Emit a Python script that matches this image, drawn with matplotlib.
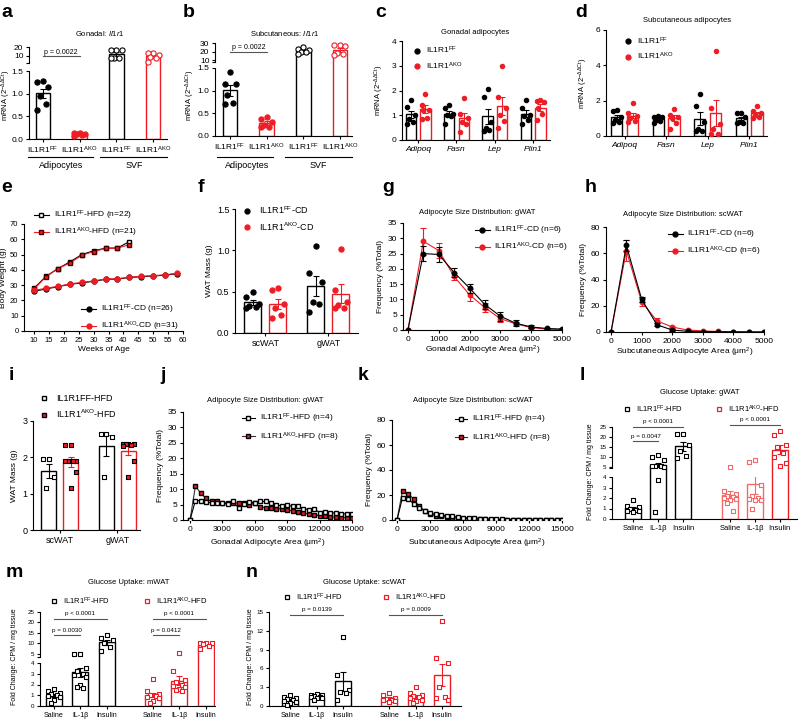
import numpy as np
import matplotlib.pyplot as plt
from matplotlib.lines import Line2D

W, H = 799, 720
RED = '#ee1c25'
PINK = '#f26a6a'

plt.rcParams.update({
    'font.family': ['Liberation Sans', 'DejaVu Sans'],
    'font.size': 5.5,
    'axes.linewidth': 0.8,
    'xtick.major.size': 2.5, 'ytick.major.size': 2.5,
    'xtick.major.width': 0.8, 'ytick.major.width': 0.8,
    'xtick.major.pad': 1.5, 'ytick.major.pad': 1.5,
    'mathtext.fontset': 'custom',
    'mathtext.rm': 'Liberation Sans',
    'mathtext.it': 'Liberation Sans:italic',
    'mathtext.bf': 'Liberation Sans:bold',
    'legend.frameon': False,
})

FF = 'IL1R1$^{\\mathrm{FF}}$'
AKO = 'IL1R1$^{\\mathrm{AKO}}$'
MRNA = 'mRNA (2$^{-\\Delta\\Delta \\mathrm{Ct}}$)'
FOLD = 'Fold Change: CPM / mg tissue'

# -------------------------------------------------------
# Data
# -------------------------------------------------------

# a: gonadal Il1r1
a_ff_adip = [1.27, 1.25, 1.15, 0.95, 0.78, 0.63]
a_ako_adip = [0.14, 0.13, 0.12, 0.10, 0.08, 0.07]
a_ff_svf = [17.0, 16.0, 16.5, 7.0, 7.0, 6.5]
a_ako_svf = [13.5, 13.0, 11.0, 8.0, 7.0, 2.5]

# b: subcutaneous Il1r1
b_ff_adip = [1.42, 1.15, 1.15, 0.90, 0.72, 0.70]
b_ako_adip = [0.42, 0.37, 0.30, 0.25, 0.20, 0.20]
b_ff_svf = [25.0, 23.0, 22.0, 20.0, 19.0, 17.0]
b_ako_svf = [28.0, 27.5, 27.0, 18.0, 17.0, 16.0]

# c, d: adipocyte genes
genes = ['Adipoq', 'Fasn', 'Lep', 'Plin1']
c_ff = [[1.62, 1.35, 1.00, 0.85, 0.72, 0.65],
        [1.42, 1.28, 1.05, 1.00, 0.95, 0.65],
        [2.08, 1.72, 0.72, 0.48, 0.35, 0.40],
        [1.62, 1.30, 1.00, 0.95, 0.80, 0.65]]
c_ako = [[1.87, 1.43, 1.22, 1.20, 0.90, 0.85],
         [1.68, 1.05, 0.90, 0.72, 0.65, 0.33],
         [3.00, 1.75, 1.30, 1.00, 0.75, 0.48],
         [1.58, 1.60, 1.52, 1.30, 1.05, 0.82]]
d_ff = [[1.50, 1.40, 1.10, 0.90, 0.80, 0.75],
        [1.15, 1.10, 1.05, 0.90, 0.85, 0.75],
        [2.40, 1.70, 0.80, 0.40, 0.30, 0.30],
        [1.30, 1.30, 1.05, 0.80, 0.75, 0.75]]
d_ako = [[1.85, 1.30, 1.15, 1.00, 0.85, 0.80],
         [1.55, 1.20, 1.10, 1.00, 0.75, 0.40],
         [4.80, 1.60, 0.70, 0.40, 0.10, 0.10],
         [1.70, 1.40, 1.30, 1.20, 1.10, 1.00]]

# e: body weight
weeks_hfd = [10, 14, 18, 22, 26, 30, 34, 38, 42]
ff_hfd_bw = [28.0, 35.8, 40.8, 45.2, 50.0, 52.5, 54.2, 54.3, 58.5]
ako_hfd_bw = [27.5, 35.5, 40.8, 44.5, 49.5, 52.0, 54.0, 54.2, 56.5]
weeks_cd = [10, 14, 18, 22, 26, 30, 34, 38, 42, 46, 50, 54, 58]
ff_cd_bw = [26.0, 27.5, 29.0, 30.5, 31.5, 32.5, 33.8, 34.0, 35.0, 35.5, 36.0, 36.5, 37.5]
ako_cd_bw = [26.5, 28.0, 29.2, 30.8, 31.8, 32.8, 34.0, 34.2, 35.2, 35.8, 36.2, 36.8, 37.8]

# f: WAT mass chow
depots = ['scWAT', 'gWAT']
f_ff = [[0.49, 0.43, 0.35, 0.33, 0.32, 0.30],
        [1.05, 0.72, 0.62, 0.38, 0.35, 0.26]]
f_ako = [[0.54, 0.52, 0.35, 0.30, 0.22, 0.18],
         [1.02, 0.52, 0.38, 0.34, 0.30, 0.30]]

# g, h: size distribution chow
area_cd = [0, 500, 1000, 1500, 2000, 2500, 3000, 3500, 4000, 4500, 5000]
g_ff = [0, 25.0, 24.7, 18.8, 13.7, 8.3, 4.5, 2.2, 1.0, 0.5, 0.3]
g_ff_err = [0, 2.5, 2.5, 1.5, 1.5, 1.5, 1.5, 1.0, 0.5, 0.3, 0.2]
g_ako = [0, 29.0, 26.0, 17.5, 11.5, 7.3, 3.7, 2.0, 0.8, 0.3, 0.1]
g_ako_err = [0, 4.5, 2.5, 1.2, 2.0, 1.5, 1.0, 0.5, 0.3, 0.2, 0.1]
h_ff = [0, 66.0, 25.0, 5.5, 1.5, 0.5, 0.3, 0.2, 0.1, 0.05, 0.0]
h_ff_err = [0, 4.0, 2.0, 1.0, 0.5, 0.3, 0.2, 0.1, 0.1, 0.0, 0.0]
h_ako = [0, 62.0, 23.0, 8.5, 3.8, 1.5, 0.8, 0.4, 0.2, 0.1, 0.05]
h_ako_err = [0, 8.0, 3.0, 2.0, 1.0, 0.5, 0.3, 0.2, 0.1, 0.05, 0.0]

# i: WAT mass HFD
i_ff = [[1.95, 1.95, 1.45, 1.15],
        [2.65, 2.65, 2.55, 1.45]]
i_ako = [[2.35, 2.35, 1.90, 1.90, 1.90, 1.90, 1.60, 1.15],
         [2.38, 2.38, 2.36, 2.36, 2.34, 2.30, 1.90, 1.45]]

# j, k: size distribution HFD
area_hfd = [0, 500, 1000, 1500, 2000, 2500, 3000, 3500, 4000, 4500, 5000,
            5500, 6000, 6500, 7000, 7500, 8000, 8500, 9000, 9500, 10000,
            10500, 11000, 11500, 12000, 12500, 13000, 13500, 14000, 14500, 15000]
j_ff = [0, 6.3, 6.3, 5.8, 5.6, 5.4, 5.5, 5.2, 6.0, 3.8, 5.2, 5.8, 5.6, 6.0, 6.0, 5.4,
        4.8, 4.6, 4.8, 4.4, 4.6, 3.6, 3.4, 3.6, 2.4, 2.6, 2.4, 2.2, 2.0, 2.0, 2.0]
j_ako = [0, 11.0, 8.6, 7.0, 6.0, 6.0, 5.6, 5.6, 5.6, 5.4, 5.4, 5.0, 5.4, 4.2, 4.0, 3.8,
         3.6, 3.6, 3.2, 3.0, 2.6, 2.2, 2.0, 1.6, 1.4, 1.2, 1.0, 0.9, 0.8, 0.7, 0.6]
k_ff = [0, 18.0, 17.0, 13.0, 10.0, 7.5, 5.5, 4.5, 4.0, 3.5, 3.0, 2.5, 2.0, 1.8, 1.5, 1.2,
        1.0, 0.8, 0.6, 0.5, 0.4, 0.3, 0.3, 0.2, 0.2, 0.1, 0.1, 0.1, 0.1, 0.1, 0.1]
k_ako = [0, 23.5, 21.0, 17.0, 11.0, 7.5, 5.0, 3.5, 3.0, 2.5, 2.0, 1.5, 1.2, 1.0, 0.8, 0.6,
         0.5, 0.4, 0.3, 0.2, 0.2, 0.1, 0.1, 0.1, 0.0, 0.0, 0.0, 0.0, 0.0, 0.0, 0.0]

# l, m, n: glucose uptake (Saline, IL-1b, Insulin) x (FF, AKO)
treat = ['Saline', 'IL-1β', 'Insulin']
l_ff = [[1.8, 1.2, 1.1, 1.0, 0.9, 0.8, 0.75, 0.7],
        [11.0, 10.0, 8.5, 5.5, 5.3, 5.5, 5.2, 3.75, 0.7],
        [21.5, 21.3, 16.0, 13.2, 10.5, 9.5]]
l_ako = [[5.2, 2.7, 2.4, 2.2, 2.1, 2.0, 1.9, 1.8, 1.5, 0.8],
         [8.5, 7.5, 3.2, 2.2, 2.0, 1.9, 1.8, 1.8, 0.95],
         [23.0, 21.0, 16.0, 15.0, 12.0, 10.0, 7.0, 5.5]]
m_ff = [[1.6, 1.4, 1.2, 1.1, 1.0, 0.9, 0.8, 0.6, 0.3],
        [5.2, 5.2, 3.5, 3.3, 3.0, 2.9, 2.7, 2.0, 1.8, 1.7],
        [14.0, 12.5, 11.5, 10.0, 8.5, 6.5]]
m_ako = [[2.5, 1.4, 1.1, 1.0, 0.9, 0.8, 0.7, 0.5, 0.3],
         [5.5, 3.3, 2.4, 2.2, 2.0, 1.9, 1.8, 1.6, 1.5, 1.4],
         [10.4, 10.2, 10.0, 9.8, 9.0, 7.6]]
n_ff = [[1.8, 1.5, 1.3, 1.1, 0.9, 0.8, 0.6, 0.4, 0.2],
        [1.9, 1.8, 1.7, 1.6, 1.5, 1.5, 1.3, 1.2, 1.0],
        [11.0, 5.0, 2.5, 2.2, 2.0, 0.9]]
n_ako = [[2.1, 1.8, 1.3, 1.1, 1.0, 0.9, 0.8, 0.7],
         [3.0, 2.0, 1.8, 1.6, 1.4, 1.2, 1.0, 0.8, 0.5],
         [13.6, 7.7, 6.9, 3.1, 1.5, 1.2, 1.0]]

fig = plt.figure(figsize=(W / 100, H / 100), dpi=100)


# -------------------------------------------------------
# Helpers
# -------------------------------------------------------

def px_axes(x0, y0, x1, y1):
    ax = fig.add_axes([x0 / W, 1 - y1 / H, (x1 - x0) / W, (y1 - y0) / H])
    ax.spines[['top', 'right']].set_visible(False)
    return ax


def ftext(x, y, s, **kw):
    kw.setdefault('ha', 'center')
    kw.setdefault('va', 'center')
    fig.text(x / W, 1 - y / H, s, **kw)


def fline(x0, x1, y, color='black'):
    fig.add_artist(Line2D([x0 / W, x1 / W], [1 - y / H, 1 - y / H], color=color, lw=0.8))


def panel_label(x, y, s):
    fig.text(x / W, 1 - y / H, s, fontsize=14, fontweight='bold', ha='left', va='baseline')


def spread(vals, width):
    vals = np.asarray(vals)
    order = np.argsort(-vals)
    pattern = [0, -1, 1, -0.5, 0.5, -1, 1, 0, -0.5, 0.5]
    offs = np.zeros(len(vals))
    for r, i in enumerate(order):
        offs[i] = pattern[r % len(pattern)] * width / 2
    return offs


def bar_points(ax, x, vals, color, width, marker='o', mface=None, medge=None,
               s=12, ax_up=None):
    vals = np.asarray(vals, float)
    m = vals.mean()
    se = vals.std(ddof=1) / np.sqrt(len(vals))
    mface = color if mface is None else mface
    medge = color if medge is None else medge
    offs = spread(vals, width * 0.75)
    ax.bar(x, m, width, facecolor='white', edgecolor=color, lw=1.0, zorder=1)
    ax.errorbar(x, m, yerr=se, fmt='none', ecolor=color, elinewidth=0.8,
                capsize=2, capthick=0.8, zorder=2)
    lo_top = ax.get_ylim()[1]
    low = vals <= lo_top
    ax.scatter(x + offs[low], vals[low], s=s, marker=marker, facecolor=mface,
               edgecolor=medge, linewidth=0.8, zorder=3, clip_on=False)
    if ax_up is not None:
        ub = ax_up.get_ylim()[0]
        if m > lo_top:
            ax_up.bar(x, m - ub + 5, width, bottom=ub - 5, facecolor='white',
                      edgecolor=color, lw=1.0, zorder=1)
            ax_up.errorbar(x, m, yerr=se, fmt='none', ecolor=color, elinewidth=0.8,
                           capsize=2, capthick=0.8, zorder=2)
        hi = ~low
        ax_up.scatter(x + offs[hi], vals[hi], s=s, marker=marker, facecolor=mface,
                      edgecolor=medge, linewidth=0.8, zorder=3, clip_on=False)


def upper_axes(x0, y0, x1, y1, ylim, ticks, spine_lo):
    ax = px_axes(x0, y0, x1, y1)
    ax.spines['bottom'].set_visible(False)
    ax.set_ylim(*ylim)
    ax.spines['left'].set_bounds(spine_lo, ylim[1])
    ax.set_yticks([spine_lo] + list(ticks))
    ax.set_yticklabels([''] + [str(t) for t in ticks])
    ax.set_xticks([])
    return ax


def pbar(ax, x0, x1, y, ty, text, fs=4.5):
    ax.plot([x0, x1], [y, y], color='#555555', lw=0.8, clip_on=False)
    ax.text((x0 + x1) / 2, ty, text, ha='center', va='center', fontsize=fs, clip_on=False)


def dot(color, marker='o', face=None, edge=None, ms=3.5, ls='none', lcolor=None):
    return Line2D([], [], ls=ls, color=lcolor or color, marker=marker,
                  mfc=face or color, mec=edge or color, ms=ms, lw=0.8)


# -------------------------------------------------------
# a / b  broken-axis Il1r1 panels
# -------------------------------------------------------

def il1r1_panel(rect_lo, rect_up, ylim_up, ticks_up, spine_lo, ff_adip, ako_adip,
                ff_svf, ako_svf, xlim, title, title_xy, p_y, p_ty):
    lo = px_axes(*rect_lo)
    lo.set_ylim(0, 1.5)
    lo.set_yticks([0, 0.5, 1.0, 1.5])
    lo.set_yticklabels(['0.0', '0.5', '1.0', '1.5'])
    up = upper_axes(*rect_up, ylim_up, ticks_up, spine_lo)
    for ax in (lo, up):
        ax.tick_params(axis='y', labelsize=6)
    w = 0.4
    bar_points(lo, 0, ff_adip, 'black', w, s=14, ax_up=up)
    bar_points(lo, 1, ako_adip, RED, w, s=14, ax_up=up)
    bar_points(lo, 2, ff_svf, 'black', w, mface='white', s=14, ax_up=up)
    bar_points(lo, 3, ako_svf, RED, w, mface='white', s=14, ax_up=up)
    for ax in (lo, up):
        ax.set_xlim(*xlim)
    lo.set_xticks([0, 1, 2, 3])
    lo.set_xticklabels([FF, AKO, FF, AKO], fontsize=6)
    pbar(up, 0, 1, p_y, p_ty, 'p = 0.0022', fs=5)
    ftext(*title_xy, title, fontsize=5.5)
    return lo


lo_a = il1r1_panel((29, 71, 167, 139), (29, 47, 167, 71), (-8.2, 20), [10, 20], 1.2,
                   a_ff_adip, a_ako_adip, a_ff_svf, a_ako_svf, (-0.38, 3.38),
                   'Gonadal: $\\mathit{Il1r1}$', (100, 33), 9.4, 14.0)
ftext(6, 95, MRNA, rotation=90, fontsize=5.5)
fline(28, 93, 157)
fline(100, 167, 157)
ftext(61, 165, 'Adipocytes', fontsize=6.5)
ftext(134, 165, 'SVF', fontsize=6.5)

lo_b = il1r1_panel((215, 68, 352, 136), (215, 43, 352, 68), (0.6, 30), [10, 20, 30], 7.6,
                   b_ff_adip, b_ako_adip, b_ff_svf, b_ako_svf, (-0.41, 3.33),
                   'Subcutaneous: $\\mathit{Il1r1}$', (285, 34), 19.6, 24.5)
ftext(190, 95, MRNA, rotation=90, fontsize=5.5)
fline(217, 273, 157)
fline(285, 352, 157)
ftext(247, 165, 'Adipocytes', fontsize=6.5)
ftext(318, 165, 'SVF', fontsize=6.5)


# -------------------------------------------------------
# c / d  adipocyte genes
# -------------------------------------------------------

def gene_panel(rect, ff, ako, ylim, yticks, xlim, title, title_xy, leg_anchor):
    ax = px_axes(*rect)
    ax.set_ylim(*ylim)
    ax.set_yticks(yticks)
    for g in range(len(genes)):
        bar_points(ax, g - 0.19, ff[g], 'black', 0.27, s=10)
        bar_points(ax, g + 0.19, ako[g], RED, 0.27, s=10)
    ax.set_xlim(*xlim)
    ax.set_xticks(range(len(genes)))
    ax.set_xticklabels(genes, fontstyle='italic', fontsize=6)
    ax.tick_params(axis='y', labelsize=6)
    ax.set_ylabel(MRNA, fontsize=5.5, labelpad=4)
    ax.legend([dot('black'), dot(RED)], [FF, AKO], loc='upper left',
              bbox_to_anchor=leg_anchor, fontsize=6, handlelength=1.0,
              handletextpad=0.6, labelspacing=0.5, borderpad=0, borderaxespad=0)
    ftext(*title_xy, title, fontsize=5.5)


gene_panel((402, 41, 550, 140), c_ff, c_ako, (0, 4), [0, 1, 2, 3, 4], (-0.42, 3.44),
           'Gonadal adipocytes', (475, 32), (0.07, 0.96))
gene_panel((606, 30, 767, 136), d_ff, d_ako, (0, 6), [0, 2, 4, 6], (-0.45, 3.43),
           'Subcutaneous adipocytes', (687, 20), (0.11, 0.95))


# -------------------------------------------------------
# e  body weight
# -------------------------------------------------------

ax = px_axes(24, 224, 183, 331)
ax.plot(weeks_hfd, ff_hfd_bw, color='black', lw=0.8, marker='s', mfc='white', mec='black', ms=3.5)
ax.plot(weeks_hfd, ako_hfd_bw, color=RED, lw=0.8, marker='s', mfc=RED, mec='#4a0000', ms=3.2)
ax.plot(weeks_cd, ff_cd_bw, color='black', lw=0.8, marker='o', mfc='black', mec='black', ms=3.5)
ax.plot(weeks_cd, ako_cd_bw, color=RED, lw=0.8, marker='o', mfc=RED, mec=RED, ms=3.5)
ax.set_xlim(6.6, 60)
ax.set_ylim(0, 70)
ax.set_xticks(range(10, 61, 5))
ax.set_yticks(range(0, 71, 10))
ax.set_xlabel('Weeks of Age', fontsize=6, labelpad=2)
ax.set_ylabel('Body Weight (g)', fontsize=6, labelpad=2)
leg1 = ax.legend([dot('black', 's', 'white', 'black', ls='-'), dot(RED, 's', RED, '#4a0000', ls='-')],
                 [FF + '-HFD (n=22)', AKO + '-HFD (n=21)'], loc='upper left',
                 bbox_to_anchor=(0.06, 1.14), fontsize=6, handlelength=1.8,
                 handletextpad=0.6, labelspacing=0.4, borderpad=0, borderaxespad=0)
ax.add_artist(leg1)
ax.legend([dot('black', 'o', ls='-'), dot(RED, 'o', ls='-')],
          [FF + '-CD (n=26)', AKO + '-CD (n=31)'], loc='upper left',
          bbox_to_anchor=(0.36, 0.26), fontsize=6, handlelength=1.8,
          handletextpad=0.6, labelspacing=0.4, borderpad=0, borderaxespad=0)


# -------------------------------------------------------
# f / i  WAT mass
# -------------------------------------------------------

def mass_panel(rect, ff, ako, ylim, yticks, yfmt, xlim, off, width, ff_kw, ako_kw,
               labels, handles, leg_anchor):
    ax = px_axes(*rect)
    ax.set_ylim(*ylim)
    ax.set_yticks(yticks)
    if yfmt:
        ax.set_yticklabels([yfmt % t for t in yticks])
    for g in range(len(depots)):
        bar_points(ax, g - off, ff[g], 'black', width, **ff_kw)
        bar_points(ax, g + off, ako[g], RED, width, **ako_kw)
    ax.set_xlim(*xlim)
    ax.set_xticks(range(len(depots)))
    ax.set_xticklabels(depots, fontsize=6.5)
    ax.tick_params(axis='y', labelsize=6.5)
    ax.set_ylabel('WAT Mass (g)', fontsize=6, labelpad=3)
    ax.legend(handles, labels, loc='upper left', bbox_to_anchor=leg_anchor,
              fontsize=6.5, handlelength=1.0, handletextpad=0.8, labelspacing=0.5,
              borderpad=0, borderaxespad=0)


mass_panel((235, 209, 358, 333), f_ff, f_ako, (0, 1.5), [0, 0.5, 1.0, 1.5], '%.1f',
           (-0.48, 1.47), 0.2, 0.27, dict(s=14), dict(s=14),
           [FF + '-CD', AKO + '-CD'], [dot('black'), dot(RED)], (0.06, 1.04))
mass_panel((33, 421, 140, 530), i_ff, i_ako, (0, 3), [0, 1, 2, 3], None,
           (-0.46, 1.39), 0.19, 0.25,
           dict(marker='s', mface='white', s=10),
           dict(marker='s', mface=RED, medge='black', s=10),
           ['IL1R1FF-HFD', AKO + '-HFD'],
           [dot('black', 's', 'white', 'black', ms=3), dot(RED, 's', RED, 'black', ms=3)],
           (0.06, 1.25))


# -------------------------------------------------------
# g / h  size distribution (chow)
# -------------------------------------------------------

def dist_cd(rect, ff, ff_err, ako, ako_err, xlim, ylim, yticks, title, title_xy, xlabel,
            leg_anchor):
    ax = px_axes(*rect)
    ax.errorbar(area_cd, ff, yerr=ff_err, color='black', lw=0.8, marker='o', ms=3.2,
                capsize=2, capthick=0.8, elinewidth=0.8, zorder=3)
    ax.errorbar(area_cd, ako, yerr=ako_err, color=RED, lw=0.8, marker='o', ms=3.2,
                capsize=2, capthick=0.8, elinewidth=0.8, zorder=2)
    ax.set_xlim(*xlim)
    ax.set_ylim(*ylim)
    ax.set_yticks(yticks)
    ax.set_xticks(range(0, 5001, 1000))
    ax.tick_params(labelsize=6)
    ax.set_xlabel(xlabel, fontsize=6, labelpad=1)
    ax.set_ylabel('Frequency (%Total)', fontsize=6, labelpad=3)
    ax.legend([dot('black', 'o', ls='-'), dot(RED, 'o', ls='-')],
              [FF + '-CD (n=6)', AKO + '-CD (n=6)'], loc='upper left',
              bbox_to_anchor=leg_anchor, fontsize=6, handlelength=1.8,
              handletextpad=0.5, labelspacing=0.45, borderpad=0, borderaxespad=0)
    ftext(*title_xy, title, fontsize=5.5)


dist_cd((403, 223, 562, 330), g_ff, g_ff_err, g_ako, g_ako_err, (-160, 5000), (0, 35),
        range(0, 36, 5), 'Adipocyte Size Distribution: gWAT', (477, 212),
        'Gonadal Adipocyte Area (μm$^2$)', (0.45, 0.99))
dist_cd((606, 227, 764, 332), h_ff, h_ff_err, h_ako, h_ako_err, (-165, 5000), (0, 80),
        range(0, 81, 20), 'Adipocyte Size Distribution: scWAT', (683, 214),
        'Subcutaneous Adipocyte Area (μm$^2$)', (0.39, 0.99))


# -------------------------------------------------------
# j / k  size distribution (HFD)
# -------------------------------------------------------

def dist_hfd(rect, ff, ako, xlim, ylim, yticks, title, title_xy, xlabel, leg_anchor):
    ax = px_axes(*rect)
    ax.plot(area_hfd, ff, color='black', lw=0.8, marker='s', mfc='white', mec='black',
            ms=3.2, zorder=3)
    ax.plot(area_hfd, ako, color='#333333', lw=0.8, marker='s', mfc=RED, mec='black',
            ms=3.0, zorder=2)
    ax.set_xlim(*xlim)
    ax.set_ylim(*ylim)
    ax.set_yticks(yticks)
    ax.set_xticks(range(0, 15001, 3000))
    ax.tick_params(labelsize=6)
    ax.set_xlabel(xlabel, fontsize=6, labelpad=3)
    ax.set_ylabel('Frequency (%Total)', fontsize=6, labelpad=3)
    ax.legend([dot('black', 's', 'white', 'black', ms=3, ls='-'),
               dot(RED, 's', RED, 'black', ms=3, ls='-', lcolor='#333333')],
              [FF + '-HFD (n=4)', AKO + '-HFD (n=8)'], loc='upper left',
              bbox_to_anchor=leg_anchor, fontsize=6, handlelength=1.5,
              handletextpad=0.6, labelspacing=0.6, borderpad=0, borderaxespad=0)
    ftext(*title_xy, title, fontsize=5.5)


dist_hfd((183, 412, 352, 520), j_ff, j_ako, (-650, 15000), (0, 35), range(0, 36, 5),
         'Adipocyte Size Distribution: gWAT', (265, 400),
         'Gonadal Adipocyte Area (μm$^2$)', (0.35, 1.0))
dist_hfd((392, 420, 562, 520), k_ff, k_ako, (-455, 15000), (0, 80), range(0, 81, 20),
         'Adipocyte Size Distribution: scWAT', (473, 400),
         'Subcutaneous Adipocyte Area (μm$^2$)', (0.37, 1.07))


# -------------------------------------------------------
# l / m / n  glucose uptake
# -------------------------------------------------------

def uptake_groups(lo, up, pos, ff, ako, width, ako_colors):
    for t in range(3):
        bar_points(lo, pos[t], ff[t], 'black', width, marker='s', mface='white', s=9,
                   ax_up=up)
        bar_points(lo, pos[t + 3], ako[t], ako_colors[t], width, marker='s',
                   mface='white', s=9, ax_up=up)
    lo.set_xticks(pos)
    lo.set_xticklabels(treat * 2, fontsize=5)
    lo.tick_params(axis='y', labelsize=4.5)


def uptake_legend(y, ff_x, ako_x, fs=5.5):
    for x, lab, c in ((ff_x, FF + '-HFD', 'black'), (ako_x, AKO + '-HFD', RED)):
        fig.add_artist(Line2D([x / W], [1 - y / H], ls='none', marker='s', mfc='white',
                              mec=c, ms=3.2, mew=0.9))
        ftext(x + 9, y, lab, ha='left', fontsize=fs)


# l
pos_l = [0, 1, 2, 3.9, 4.9, 5.9]
lo = px_axes(612, 477, 797, 519)
lo.set_ylim(0, 4)
lo.set_yticks([0, 1, 2, 3, 4])
up = upper_axes(612, 427, 797, 477, (0, 25), [5, 10, 15, 20, 25], 4.5)
up.tick_params(axis='y', labelsize=4.5)
uptake_groups(lo, up, pos_l, l_ff, l_ako, 0.65, [PINK, PINK, RED])
lo.set_xticklabels(treat * 2, fontsize=5.5)
for ax in (lo, up):
    ax.set_xlim(-0.86, 6.6)
pbar(up, 0, 2, 25, 28, 'p < 0.0001')
pbar(up, 0, 1, 18, 20.3, 'p = 0.0047')
pbar(up, 3.9, 5.9, 26, 28.5, 'p < 0.0001')
ftext(700, 393, 'Glucose Uptake: gWAT', fontsize=5.5)
uptake_legend(409, 627, 719)
ftext(591, 472, FOLD, rotation=90, fontsize=5)

# m
pos_mn = [0, 1, 2, 3.75, 4.75, 5.75]
lo = px_axes(40, 663, 215, 706)
lo.set_ylim(0, 4)
lo.set_yticks([0, 1, 2, 3, 4])
up = upper_axes(40, 612, 215, 663, (0.71, 25), [5, 10, 15, 20, 25], 3.8)
up.tick_params(axis='y', labelsize=4.5)
uptake_groups(lo, up, pos_mn, m_ff, m_ako, 0.6, [RED, RED, RED])
for ax in (lo, up):
    ax.set_xlim(-0.53, 6.1)
pbar(up, 0, 2, 21.7, 24.2, 'p < 0.0001')
pbar(up, 0, 1, 14, 16.3, 'p = 0.0030')
pbar(up, 3.75, 5.75, 21.7, 24.2, 'p < 0.0001')
pbar(up, 3.75, 4.75, 14, 16.3, 'p = 0.0412')
ftext(129, 583, 'Glucose Uptake: mWAT', fontsize=5.5)
uptake_legend(601, 54, 147)
ftext(15, 657, FOLD, rotation=90, fontsize=5)

# n
ax = px_axes(269, 612, 461, 706)
ax.set_ylim(0, 15)
ax.set_yticks([0, 3, 6, 9, 12, 15])
ax.axhline(0, color='#888888', lw=0.8, ls=':', zorder=0)
uptake_groups(ax, None, pos_mn, n_ff, n_ako, 0.6, [RED, RED, RED])
ax.set_xlim(-0.8, 6.47)
pbar(ax, 0, 2, 14.5, 15.4, 'p = 0.0139')
pbar(ax, 3.75, 5.75, 14.5, 15.4, 'p = 0.0009')
ftext(364, 583, 'Glucose Uptake: scWAT', fontsize=5.5)
uptake_legend(597, 287, 386)
ftext(251, 657, FOLD, rotation=90, fontsize=5)


# -------------------------------------------------------
# Panel letters
# -------------------------------------------------------

for s, x, y in [('a', 1, 17), ('b', 183, 17), ('c', 375, 17), ('d', 575, 17),
                ('e', 1, 192), ('f', 198, 192), ('g', 382, 192), ('h', 585, 192),
                ('i', 9, 380), ('j', 160, 380), ('k', 358, 380), ('l', 580, 380),
                ('m', 6, 577), ('n', 246, 577)]:
    panel_label(x, y, s)

fig.savefig('out.png', dpi=100)
